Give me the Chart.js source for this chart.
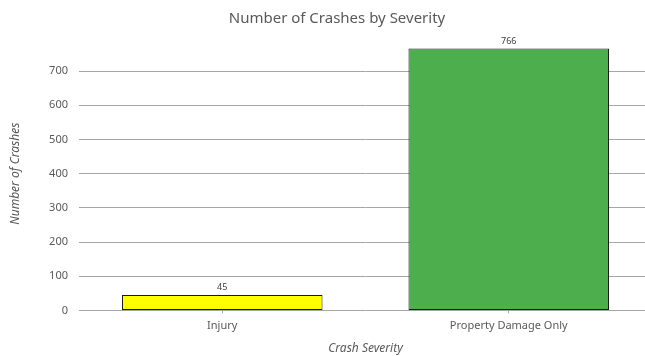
<!DOCTYPE html>
<html lang="en">
<head>
    <meta charset="UTF-8">
    <title>Number of Crashes by Severity</title>
    <script src="https://cdn.jsdelivr.net/npm/chart.js"></script>
    <style>
        body { margin: 0; background: #fff; overflow: hidden; }
        .chart-box { width: 652px; height: 356px; }
    </style>
</head>
<body>
<div class="chart-box"><canvas id="crashChart"></canvas></div>

<script>
    const categories = ['Injury', 'Property Damage Only'];
    const crashCounts = [45, 766];
    const barColors = ['#ffff00', '#4cae4c'];
    const yTicks = [0, 100, 200, 300, 400, 500, 600, 700];

    const textColor = '#595959';
    const fontFamily = '"Noto Sans", "Open Sans", sans-serif';

    // value labels above each bar
    const valueLabels = {
        id: 'valueLabels',
        afterDatasetsDraw(chart) {
            const ctx = chart.ctx;
            const meta = chart.getDatasetMeta(0);
            ctx.save();
            ctx.font = '9px ' + fontFamily;
            ctx.fillStyle = '#404040';
            ctx.textAlign = 'center';
            ctx.textBaseline = 'bottom';
            meta.data.forEach((bar, i) => {
                ctx.fillText(crashCounts[i], bar.x, bar.y - 3);
            });
            ctx.restore();
        }
    };

    new Chart(document.getElementById('crashChart'), {
        type: 'bar',
        data: {
            labels: categories,
            datasets: [{
                data: crashCounts,
                backgroundColor: barColors,
                borderColor: '#1a1a1a',
                borderWidth: 1,
                borderSkipped: false,
                categoryPercentage: 1,
                barPercentage: 0.70
            }]
        },
        options: {
            responsive: true,
            maintainAspectRatio: false,
            animation: false,
            layout: { padding: { left: 22, right: 0, bottom: 0 } },
            scales: {
                x: {
                    grid: { display: true, drawOnChartArea: false, offset: false, tickLength: 3, color: '#a6a6a6' },
                    border: { display: false },
                    ticks: { color: textColor, font: { family: fontFamily, size: 11 }, padding: 6 },
                    title: {
                        display: true, text: 'Crash Severity', color: textColor,
                        font: { family: fontFamily, size: 12, style: 'italic' },
                        padding: { top: 3, bottom: 0 }
                    }
                },
                y: {
                    min: 0,
                    max: 800,
                    afterBuildTicks: s => { s.ticks = yTicks.map(v => ({ value: v })); },
                    afterFit: s => { s.width = 57; },
                    grid: { color: '#a6a6a6', drawTicks: false },
                    border: { display: false },
                    ticks: { color: textColor, font: { family: fontFamily, size: 11 }, padding: 11 },
                    title: {
                        display: true, text: 'Number of Crashes', color: textColor,
                        font: { family: fontFamily, size: 12, style: 'italic' },
                        padding: { top: -14, bottom: 0 }
                    }
                }
            },
            plugins: {
                legend: { display: false },
                tooltip: { enabled: false },
                title: {
                    display: true,
                    text: 'Number of Crashes by Severity',
                    color: textColor,
                    font: { family: fontFamily, size: 15, weight: 'normal' },
                    padding: { top: 10, bottom: 9 }
                }
            }
        },
        plugins: [valueLabels]
    });
</script>
</body>
</html>
